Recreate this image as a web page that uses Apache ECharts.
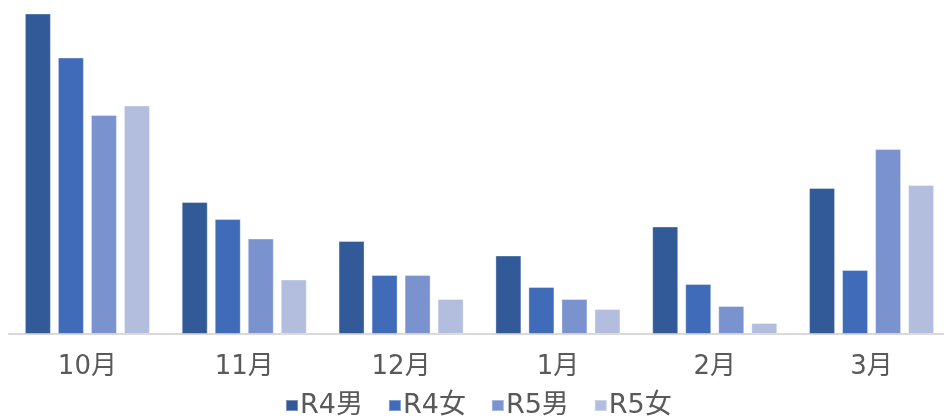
<!DOCTYPE html>
<html><head><meta charset="utf-8">
<script src="https://cdn.jsdelivr.net/npm/echarts@6/dist/echarts.min.js"></script>
<style>html,body{margin:0;padding:0;background:#fff}#c{width:944px;height:419px}</style>
</head><body><div id="c"></div>
<script>
const categories = ['10月','11月','12月','1月','2月','3月'];
const seriesNames = ['R4男','R4女','R5男','R5女'];
const r4m = [320.5, 132, 93, 78.5, 107.5, 146];
const r4f = [276.5, 115, 59, 47, 50, 64];
const r5m = [219, 95.5, 59, 35, 28, 185];
const r5f = [228.5, 54.5, 35, 25, 11, 149];
const colors = ['#325A98','#3F6BB8','#7A93CF','#B3BEDF'];
const values = [r4m, r4f, r5m, r5f];
const font = '"DejaVu Sans", "Noto Sans CJK JP", sans-serif';
const chart = echarts.init(document.getElementById('c'));
chart.setOption({
  animation: false,
  color: colors,
  grid: {left: 9, width: 941, top: 11, bottom: 85, containLabel: false, outerBoundsMode: 'none'},
  legend: {
    bottom: -5, left: 280,
    itemWidth: 12, itemHeight: 11, itemGap: 25,
    icon: 'rect',
    textStyle: {fontSize: 27, color: '#595959', fontFamily: font, padding: [0,0,0,-3]},
    data: seriesNames
  },
  xAxis: {
    type: 'category', data: categories,
    axisLine: {lineStyle: {color: '#D9D9D9', width: 2}},
    axisTick: {show: false},
    axisLabel: {fontSize: 26, color: '#595959', fontFamily: font, margin: 20}
  },
  yAxis: {type: 'value', min: 0, max: 323, show: false, splitLine: {show: false}},
  series: seriesNames.map((n, i) => ({
    name: n, type: 'bar', data: values[i],
    barWidth: 26, barGap: '27%',
    itemStyle: {color: colors[i], borderColor: 'rgba(255,255,255,0.35)', borderWidth: 1}
  }))
});
</script></body></html>
